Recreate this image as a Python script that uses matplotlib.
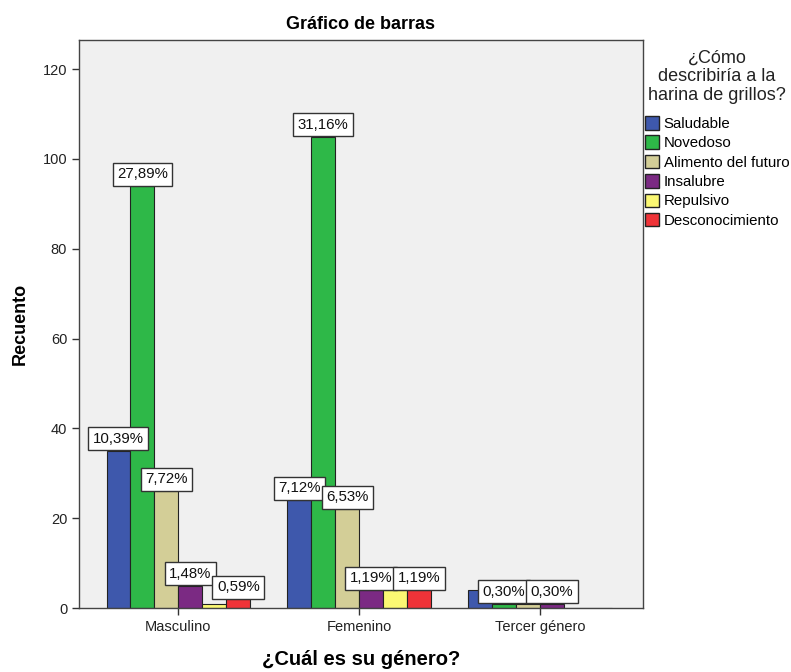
import numpy as np
import matplotlib.pyplot as plt
from matplotlib.patches import Patch

plt.rcParams['font.family'] = ['Liberation Sans', 'DejaVu Sans']

generos = ['Masculino', 'Femenino', 'Tercer género']
respuestas = ['Saludable', 'Novedoso', 'Alimento del futuro', 'Insalubre',
              'Repulsivo', 'Desconocimiento']
colores = ['#3E58AC', '#2EB848', '#D3CE97', '#7B2A83', '#FBF873', '#EF3338']

# recuento por respuesta, en el orden de generos
saludable = [35, 24, 4]
novedoso = [94, 105, 1]
alimento_futuro = [26, 22, 1]
insalubre = [5, 4, 1]
repulsivo = [1, 4, 0]
desconocimiento = [2, 4, 0]

# etiquetas visibles (None = no se muestra)
pct_saludable = ['10,39%', '7,12%', None]
pct_novedoso = ['27,89%', '31,16%', '0,30%']
pct_alimento = ['7,72%', '6,53%', None]
pct_insalubre = ['1,48%', '1,19%', '0,30%']
pct_repulsivo = [None, None, None]
pct_desconoc = ['0,59%', '1,19%', None]

series = [saludable, novedoso, alimento_futuro, insalubre, repulsivo, desconocimiento]
etiquetas = [pct_saludable, pct_novedoso, pct_alimento, pct_insalubre,
             pct_repulsivo, pct_desconoc]

fig = plt.figure(figsize=(7.91, 6.72), dpi=100)
ax = fig.add_axes([79 / 791, 64 / 672, 564 / 791, 568 / 672])
ax.set_facecolor('#F0F0F0')

x = np.arange(len(generos))
w = 0.1326
for i, (vals, col, labs) in enumerate(zip(series, colores, etiquetas)):
    pos = x + (i - 2.5) * w
    ax.bar(pos, vals, width=w, color=col, edgecolor='#222222', linewidth=0.8,
           label=respuestas[i], zorder=2)
    for px, v, lab in zip(pos, vals, labs):
        if lab is None:
            continue
        ax.annotate(lab, (px, v), xytext=(0, 3.5), textcoords='offset points',
                    ha='center', va='bottom', fontsize=10.8, zorder=4,
                    color='#111111',
                    bbox=dict(boxstyle='square,pad=0.3', fc='white',
                              ec='#333333', lw=1))

ax.set_xlim(-0.55, 2.57)
ax.set_ylim(0, 126.5)
ax.set_yticks(range(0, 121, 20))
ax.set_xticks(x)
ax.set_xticklabels(generos)
ax.tick_params(axis='both', labelsize=10.5, colors='#333333', length=5,
               width=1, labelcolor='#222222')
for s in ax.spines.values():
    s.set_color('#444444')
    s.set_linewidth(1)

ax.set_title('Gráfico de barras', fontsize=13, fontweight='bold', pad=8)
ax.set_ylabel('Recuento', fontsize=13, fontweight='bold', labelpad=10)
ax.set_xlabel('¿Cuál es su género?', fontsize=14.5, fontweight='bold', labelpad=12)

handles = [Patch(facecolor=c, edgecolor='#222222', label=r)
           for c, r in zip(colores, respuestas)]
leg = fig.legend(handles=handles, loc='upper left',
                 bbox_to_anchor=(642 / 791, 1 - 47 / 672),
                 title='¿Cómo\ndescribiría a la\nharina de grillos?',
                 title_fontsize=13, fontsize=10.8, frameon=False,
                 handlelength=0.95, handleheight=1.0, handletextpad=0.3,
                 labelspacing=0.3, borderaxespad=0, borderpad=0.2)
leg.get_title().set_multialignment('center')
leg.get_title().set_color('#222222')
leg.get_title().set_linespacing(1.1)
leg._legend_box.sep = 9

fig.savefig('out.png', dpi=100)
